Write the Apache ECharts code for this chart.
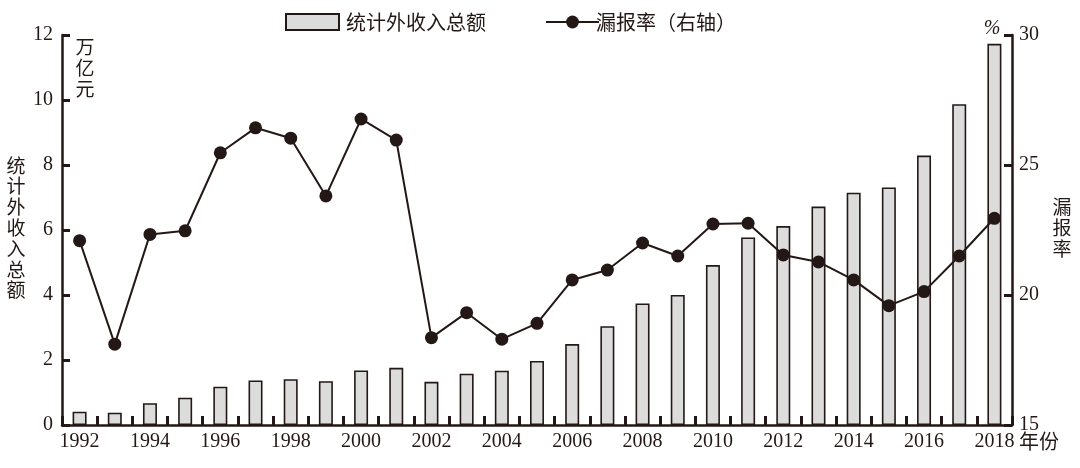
<!DOCTYPE html>
<html>
<head>
<meta charset="utf-8">
<script src="https://cdn.jsdelivr.net/npm/echarts@6/dist/echarts.min.js"></script>
<style>
html,body{margin:0;padding:0;background:#fff;}
#chart{width:1080px;height:468px;}
</style>
</head>
<body>
<div id="chart"></div>
<script>
const years = ['1992','1993','1994','1995','1996','1997','1998','1999','2000','2001','2002','2003','2004','2005','2006','2007','2008','2009','2010','2011','2012','2013','2014','2015','2016','2017','2018'];
const incomeTotal = [0.41,0.38,0.67,0.84,1.18,1.37,1.41,1.35,1.68,1.76,1.33,1.58,1.67,1.97,2.49,3.04,3.74,4.00,4.92,5.77,6.12,6.72,7.15,7.31,8.29,9.87,11.73];
const underReportRate = [22.09,18.11,22.33,22.47,25.47,26.43,26.03,23.81,26.77,25.96,18.36,19.32,18.30,18.91,20.58,20.96,22.00,21.50,22.73,22.76,21.54,21.27,20.58,19.59,20.13,21.50,22.95];
const leftTicks = {min:0, max:12, interval:2};
const rightTicks = {min:15, max:30, interval:5};

const INK = '#231815';
const SERIF = '"Liberation Serif","Times New Roman",serif';
const CJK = '"Noto Sans CJK SC","Noto Sans",sans-serif';

const chart = echarts.init(document.getElementById('chart'), null, {renderer:'canvas'});
chart.setOption({
  animation:false,
  backgroundColor:'#fff',
  grid:{left:62, right:68, top:35, bottom:43},
  legend:[
    {left:285, top:12, padding:0, itemWidth:53, itemHeight:16, itemGap:12,
     icon:'rect',
     itemStyle:{borderColor:INK, borderWidth:2},
     data:['统计外收入总额'],
     textStyle:{fontFamily:CJK, fontSize:20, color:INK, padding:[0,0,0,2]}},
    {left:545, top:12, padding:0, itemWidth:53, itemHeight:16,
     data:['漏报率（右轴）'],
     textStyle:{fontFamily:CJK, fontSize:20, color:INK, padding:[0,0,0,-8]}}
  ],
  xAxis:{
    type:'category', data:years,
    axisLine:{show:true, lineStyle:{color:INK, width:2.5}},
    axisTick:{show:true, inside:true, length:9, lineStyle:{color:INK, width:3}},
    axisLabel:{interval:0, margin:7, fontFamily:SERIF, fontSize:20, color:INK,
      formatter:function(v, i){ return i % 2 === 0 ? v : ''; }}
  },
  yAxis:[
    {type:'value', min:leftTicks.min, max:leftTicks.max, interval:leftTicks.interval,
     axisLine:{show:true, lineStyle:{color:INK, width:2.5}},
     axisTick:{show:true, inside:true, length:8, lineStyle:{color:INK, width:3}},
     axisLabel:{margin:9, fontFamily:SERIF, fontSize:20, color:INK},
     splitLine:{show:false}},
    {type:'value', position:'right', min:rightTicks.min, max:rightTicks.max, interval:rightTicks.interval,
     axisLine:{show:true, lineStyle:{color:INK, width:2.5}},
     axisTick:{show:true, inside:true, length:8, lineStyle:{color:INK, width:3}},
     axisLabel:{margin:7, fontFamily:SERIF, fontSize:20, color:INK},
     splitLine:{show:false}}
  ],
  graphic:[
    {type:'text', x:85, y:36, style:{text:'万\n亿\n元', font:'19px '+CJK, fill:INK, align:'center', verticalAlign:'top', lineHeight:21}},
    {type:'text', x:16, y:155, style:{text:'统\n计\n外\n收\n入\n总\n额', font:'19px '+CJK, fill:INK, align:'center', verticalAlign:'top', lineHeight:20.8}},
    {type:'text', x:1062, y:196, style:{text:'漏\n报\n率', font:'19px '+CJK, fill:INK, align:'center', verticalAlign:'top', lineHeight:21}},
    {type:'text', x:1019, y:441, style:{text:'年份', font:'20px '+CJK, fill:INK, align:'left', verticalAlign:'middle'}},
    {type:'text', x:992, y:29, style:{text:'%', font:'italic 20px '+SERIF, fill:INK, align:'center', verticalAlign:'middle'}}
  ],
  series:[
    {name:'统计外收入总额', type:'bar', yAxisIndex:0, data:incomeTotal, barWidth:14,
     itemStyle:{color:'#dcdcdc', borderColor:INK, borderWidth:1.6}},
    {name:'漏报率（右轴）', type:'line', yAxisIndex:1, data:underReportRate,
     symbol:'circle', symbolSize:13,
     lineStyle:{color:INK, width:2},
     itemStyle:{color:INK}}
  ]
});
</script>
</body>
</html>
